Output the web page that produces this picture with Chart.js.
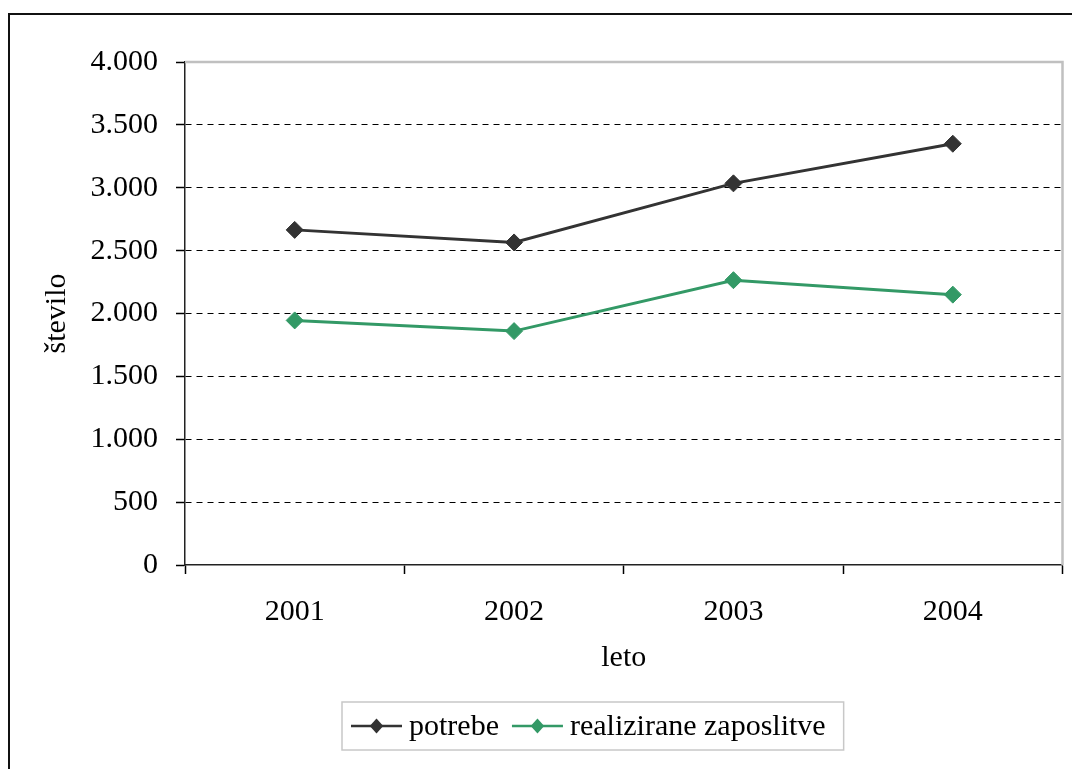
<!DOCTYPE html>
<html lang="sl">
<head>
<meta charset="utf-8">
<title>Potrebe in realizirane zaposlitve</title>
<script src="https://cdn.jsdelivr.net/npm/chart.js@4/dist/chart.umd.min.js"></script>
<style>
  html, body { margin: 0; padding: 0; background: #ffffff; }
  #wrap { position: relative; width: 1072px; height: 769px; }
</style>
</head>
<body>
<div id="wrap"><canvas id="chart"></canvas></div>
<script>
// Leta in vrednosti serij
const years = ['2001', '2002', '2003', '2004'];
const potrebe = [2665, 2565, 3035, 3350];
const realizirane = [1945, 1860, 2265, 2150];
const seriesNames = ['potrebe', 'realizirane zaposlitve'];
const seriesColors = ['#333333', '#339966'];
const yAxisTitle = 'število';
const xAxisTitle = 'leto';

const FONT = '"Liberation Serif", "Times New Roman", serif';

// Thousands separator as a dot, e.g. 3.500
function fmt(v) {
  return String(v).replace(/\B(?=(\d{3})+(?!\d))/g, '.');
}

// Outer frame and grey plot-area edges (top and right)
const framePlugin = {
  id: 'frame',
  beforeDraw(chart) {
    const ctx = chart.ctx;
    ctx.save();
    ctx.strokeStyle = '#111111';
    ctx.lineWidth = 2;
    ctx.strokeRect(9, 14, 1200, 1000);
    ctx.restore();
  },
  beforeDatasetsDraw(chart) {
    const { ctx, chartArea: a } = chart;
    ctx.save();
    ctx.strokeStyle = '#c0c0c0';
    ctx.lineWidth = 2.5;
    ctx.beginPath();
    ctx.moveTo(a.left, a.top);
    ctx.lineTo(a.right, a.top);
    ctx.lineTo(a.right, a.bottom);
    ctx.stroke();
    ctx.restore();
  }
};

// Framed legend below the axis: line sample with a diamond, then the label
const legendPlugin = {
  id: 'framedLegend',
  afterDraw(chart) {
    const ctx = chart.ctx;
    const sets = chart.data.datasets;
    const boxLeft = 342, boxTop = 702, boxH = 48;
    const cy = boxTop + boxH / 2;
    const padL = 9, padR = 18, sample = 51, gapText = 7, gapItem = 13;
    ctx.save();
    ctx.font = '30px ' + FONT;
    let x = boxLeft + padL;
    const items = sets.map(ds => {
      const w = ctx.measureText(ds.label).width;
      const it = { x, w, ds };
      x += sample + gapText + w + gapItem;
      return it;
    });
    const boxW = x - gapItem + padR - boxLeft;
    ctx.strokeStyle = '#c8c8c8';
    ctx.lineWidth = 1.5;
    ctx.strokeRect(boxLeft, boxTop, boxW, boxH);
    items.forEach(it => {
      const c = it.ds.borderColor;
      ctx.strokeStyle = c;
      ctx.lineWidth = 2.5;
      ctx.beginPath();
      ctx.moveTo(it.x, cy);
      ctx.lineTo(it.x + sample, cy);
      ctx.stroke();
      const mx = it.x + sample / 2, r = 7.5;
      ctx.fillStyle = c;
      ctx.beginPath();
      ctx.moveTo(mx, cy - r);
      ctx.lineTo(mx + r * 0.9, cy);
      ctx.lineTo(mx, cy + r);
      ctx.lineTo(mx - r * 0.9, cy);
      ctx.closePath();
      ctx.fill();
      ctx.fillStyle = '#000000';
      ctx.textBaseline = 'middle';
      ctx.textAlign = 'left';
      ctx.fillText(it.ds.label, it.x + sample + gapText, cy + 1);
    });
    ctx.restore();
  }
};

function series(i, values) {
  return {
    label: seriesNames[i],
    data: values,
    borderColor: seriesColors[i],
    backgroundColor: seriesColors[i],
    borderWidth: 3,
    pointStyle: 'rectRot',
    pointRadius: 8.5,
    pointBorderWidth: 1,
    pointBorderColor: seriesColors[i],
    pointBackgroundColor: seriesColors[i],
    pointHoverRadius: 8.5,
    tension: 0
  };
}

const ctx = document.getElementById('chart').getContext('2d');
new Chart(ctx, {
  type: 'line',
  data: {
    labels: years,
    datasets: [series(0, potrebe), series(1, realizirane)]
  },
  options: {
    responsive: true,
    maintainAspectRatio: false,
    devicePixelRatio: 1,
    animation: false,
    layout: { padding: { left: 20, top: 62, right: 6, bottom: 84 } },
    plugins: {
      legend: { display: false },
      tooltip: { enabled: false },
      title: { display: false }
    },
    scales: {
      x: {
        type: 'category',
        offset: true,
        afterFit(scale) { scale.height = 120; },
        grid: {
          offset: true,
          drawOnChartArea: false,
          drawTicks: true,
          tickLength: 9,
          color: '#000000',
          tickColor: '#000000',
          tickWidth: 1.5
        },
        border: { display: true, color: '#222222', width: 1.5 },
        ticks: {
          color: '#000000',
          padding: 20,
          font: { family: FONT, size: 30 },
          maxRotation: 0
        },
        title: {
          display: true,
          text: xAxisTitle,
          color: '#000000',
          font: { family: FONT, size: 30 },
          padding: { top: 0, bottom: 9 }
        }
      },
      y: {
        min: 0,
        max: 4000,
        afterFit(scale) { scale.width = 165; },
        grid: {
          drawOnChartArea: true,
          drawTicks: true,
          tickLength: 9,
          lineWidth: 1,
          color: (c) => (c.tick && (c.tick.value === 0 || c.tick.value === 4000)) ? 'rgba(0,0,0,0)' : '#000000',
          tickColor: '#000000',
          tickWidth: 1.5,
          tickBorderDash: []
        },
        border: { display: true, color: '#222222', width: 1.5, dash: [6, 5] },
        ticks: {
          stepSize: 500,
          color: '#000000',
          padding: 18,
          font: { family: FONT, size: 30 },
          callback: (v) => fmt(v)
        },
        title: {
          display: true,
          text: yAxisTitle,
          color: '#000000',
          font: { family: FONT, size: 30 },
          padding: { top: 19, bottom: 0 }
        }
      }
    }
  },
  plugins: [framePlugin, legendPlugin]
});
</script>
</body>
</html>
